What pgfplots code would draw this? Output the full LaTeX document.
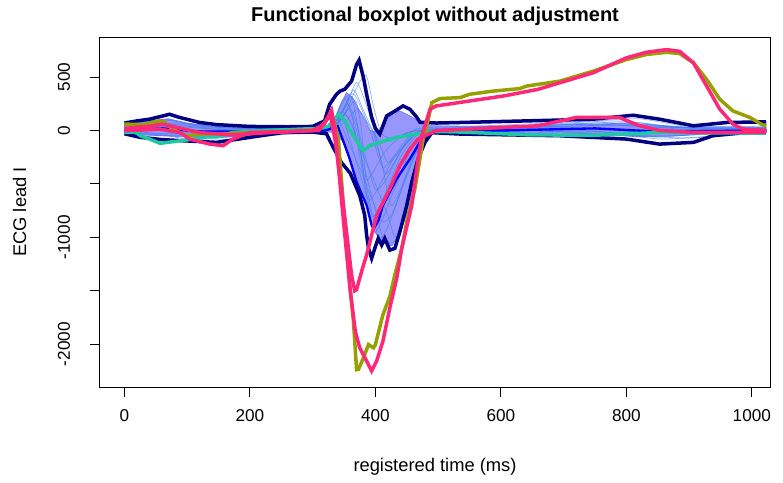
\documentclass[border=0pt]{standalone}
\usepackage{pgfplots}
\pgfplotsset{compat=1.18}
\usepackage{fontspec}
\setmainfont{Liberation Sans}
\definecolor{navyc}{RGB}{0,0,128}
\definecolor{fillc}{RGB}{150,150,252}
\definecolor{thinc}{RGB}{60,125,235}
\definecolor{bluec}{RGB}{0,0,255}
\definecolor{olivec}{RGB}{150,160,0}
\definecolor{pinkc}{RGB}{255,40,120}
\definecolor{tealc}{RGB}{30,200,160}
\begin{document}
\begin{tikzpicture}
\begin{axis}[
  scale only axis, width=402pt, height=210pt,
  xmin=-39, xmax=1029, ymin=-2400, ymax=875,
  axis line style={line width=0.6pt},
  tick align=outside, major tick length=6pt,
  tick style={line width=0.6pt, black},
  xtick pos=bottom, ytick pos=left,
  xtick={0,200,400,600,800,1000},
  ytick={-2000,-1500,-1000,-500,0,500},
  yticklabels={-2000,,-1000,,0,500},
  scaled ticks=false,
  /pgf/number format/assume math mode=true,
  /pgf/number format/set thousands separator={},
  ticklabel style={font=\fontsize{10.3}{12}\selectfont},
  xticklabel style={yshift=-4pt},
  yticklabel style={rotate=90, anchor=south, inner ysep=11.8pt},
  xlabel={registered time (ms)}, ylabel={ECG lead I},
  xlabel style={font=\fontsize{11}{13}\selectfont, at={(axis description cs:0.5,-0.2286)}, anchor=center},
  ylabel style={font=\fontsize{11}{13}\selectfont, at={(axis description cs:-0.12,0.5)}, anchor=center},
  title={Functional boxplot without adjustment},
  title style={font=\fontsize{12}{14}\selectfont\bfseries, at={(axis description cs:0.5,1.031)}, anchor=center},
  clip=true,
  thinl/.style={thinc, line width=0.45pt, opacity=0.55, smooth, tension=0.4},
]
\coordinate (bl) at (rel axis cs:0,0);
\coordinate (tr) at (rel axis cs:1,1);
% central region
\addplot[fill=fillc, draw=fillc!80!blue, line width=0.4pt] coordinates {
(0,60) (40,90) (70,110) (100,70) (140,40) (200,20) (260,15) (320,15) (335,100) (345,250) (354,354) (365,300) (375,183) (385,80) (391,0) (402,-10) (412,13) (418,106) (428,160) (439,183) (455,137) (471,78) (490,45) (550,40) (650,45) (750,60) (800,70) (850,50) (900,30) (1023,30)
(1023,-10) (950,-20) (880,-50) (820,-60) (750,-30) (650,-20) (550,-15) (490,-10) (475,-100) (466,-400) (455,-700) (440,-950) (426,-1080) (415,-1060) (405,-1000) (397,-930) (394,-886) (386,-700) (370,-480) (359,-266) (348,-100) (335,-20) (320,-10) (260,-30) (200,-50) (140,-70) (100,-60) (60,-50) (30,-40) (0,-20)
} -- cycle;
% thin curves
\addplot[thinl] coordinates {(0,20) (40,50) (80,60) (130,20) (200,0) (280,-10) (320,0) (335,120) (350,300) (362,150) (375,-250) (395,-800) (415,-600) (440,-250) (470,-20) (500,20) (600,30) (700,40) (800,50) (900,10) (1023,20)};
\addplot[thinl] coordinates {(0,-20) (50,-40) (90,-50) (150,-40) (220,-10) (300,0) (325,10) (342,80) (358,200) (370,0) (385,-500) (405,-1000) (420,-900) (445,-500) (470,-150) (490,0) (550,10) (700,20) (820,-10) (900,-30) (1023,0)};
\addplot[thinl] coordinates {(0,40) (30,80) (70,100) (110,50) (180,20) (260,10) (320,10) (340,100) (355,250) (370,450) (385,250) (398,0) (415,-400) (430,-300) (450,-100) (475,0) (600,40) (760,70) (850,40) (950,20) (1023,30)};
\addplot[thinl] coordinates {(0,0) (40,10) (80,-20) (140,-60) (210,-40) (290,-10) (320,0) (333,60) (345,150) (360,-100) (375,-400) (390,-650) (408,-500) (430,-250) (460,-60) (485,0) (600,10) (750,-30) (850,-60) (950,-20) (1023,-10)};
\addplot[thinl] coordinates {(0,10) (50,60) (90,70) (150,30) (230,10) (300,5) (325,20) (345,150) (365,380) (380,200) (395,0) (410,-300) (425,-700) (440,-550) (460,-250) (480,-50) (500,10) (650,40) (800,80) (900,20) (1023,10)};
\addplot[thinl] coordinates {(0,30) (60,70) (100,40) (180,10) (300,0) (330,20) (350,150) (370,400) (385,520) (398,200) (410,-30) (430,-80) (450,-20) (480,10) (600,40) (750,60) (850,30) (1023,20)};
\addplot[thinl] coordinates {(0,-10) (40,-30) (100,-20) (150,0) (230,-20) (300,-10) (322,0) (340,80) (355,250) (368,100) (382,-200) (400,-550) (418,-450) (440,-200) (465,-30) (490,0) (600,-10) (750,20) (850,0) (1023,-20)};
\addplot[thinl] coordinates {(0,0) (50,30) (100,10) (170,-20) (250,-10) (310,0) (330,30) (348,200) (362,320) (374,-50) (385,-600) (397,-950) (410,-850) (430,-550) (455,-200) (478,-20) (520,10) (700,30) (850,-20) (950,0) (1023,0)};
\addplot[thinl] coordinates {(0,-30) (40,-50) (80,-40) (130,-60) (200,-30) (280,-10) (320,-5) (335,60) (348,180) (362,50) (378,-200) (400,-500) (420,-800) (432,-1000) (445,-800) (460,-400) (475,-100) (495,0) (650,0) (800,-40) (900,-70) (1023,-20)};
\addplot[thinl] coordinates {(0,20) (60,40) (120,0) (200,-30) (290,0) (325,10) (345,100) (368,280) (378,0) (385,-450) (395,-400) (415,-200) (440,-60) (470,0) (600,20) (780,50) (870,10) (1023,10)};
\addplot[thinl] coordinates {(0,-10) (50,20) (100,-10) (160,-50) (240,-30) (300,-10) (320,-5) (330,50) (340,120) (355,-80) (375,-350) (395,-650) (410,-850) (425,-800) (445,-500) (465,-200) (485,-20) (520,0) (700,10) (850,-50) (1023,-10)};
\addplot[thinl] coordinates {(0,5) (50,40) (100,30) (180,0) (280,5) (330,15) (352,80) (372,200) (390,50) (405,-100) (420,-300) (438,-200) (460,-50) (485,0) (600,30) (780,90) (880,30) (1023,20)};
\addplot[thinl] coordinates {(0,50) (40,70) (75,95) (120,40) (200,20) (300,15) (330,60) (352,300) (366,340) (378,200) (390,30) (400,-150) (412,-350) (428,-250) (450,-80) (470,20) (600,50) (750,90) (820,110) (900,40) (1023,40)};
\addplot[thinl] coordinates {(0,-15) (40,-20) (90,-70) (140,-90) (210,-60) (290,-20) (320,-10) (338,40) (350,150) (363,60) (380,-300) (398,-700) (412,-1000) (428,-1050) (442,-900) (458,-500) (475,-150) (492,-10) (600,0) (760,-10) (860,-80) (1023,-5)};
% median-like blue line
\addplot[bluec, line width=1.4pt] coordinates {(0,0) (60,20) (120,-10) (200,-10) (320,0) (340,40) (352,-150) (359,-266) (370,-480) (386,-700) (394,-886) (397,-920) (405,-840) (412,-700) (434,-452) (455,-266) (471,-108) (490,-10) (600,0) (750,20) (850,-10) (1023,0)};
% envelopes
\addplot[navyc, line width=2.1pt] coordinates {(0,70) (20,90) (40,106) (72,152) (88,122) (120,75) (147,55) (200,38) (260,35) (300,38) (319,90) (327,245) (338,339) (344,370) (351,385) (362,462) (370,618) (374,658) (381,494) (386,339) (394,125) (400,20) (407,-33) (418,137) (428,171) (444,230) (455,199) (466,124) (471,78) (497,70) (535,75) (641,90) (747,106) (811,143) (853,106) (907,44) (960,75) (1023,81)};
\addplot[navyc, line width=2.1pt] coordinates {(0,-30) (25,-64) (60,-85) (94,-96) (147,-111) (200,-64) (253,-18) (300,-15) (322,-30) (332,-150) (346,-300) (360,-400) (375,-607) (383,-793) (386,-979) (389,-1103) (394,-1196) (399,-1103) (404.5,-1010) (410,-1072) (415,-1010) (423,-1119) (431,-1103) (439,-948) (450,-700) (458,-483) (468,-266) (479,-111) (490,-20) (535,-33) (694,-49) (800,-80) (853,-127) (907,-111) (938,-49) (990,-18) (1023,-5)};
% outliers
\addplot[tealc, line width=2.1pt] coordinates {(0,-18) (19,-18) (25,-49) (40,-80) (57,-120) (83,-100) (110,-80) (131,-60) (147,-60) (173,-18) (227,0) (280,13) (311,20) (325,40) (342,153) (351,90) (365,-49) (380,-189) (391,-142) (407,-111) (434,-64) (466,-33) (492,-10) (524,-12) (577,-24) (641,-40) (747,-45) (853,-18) (1023,-25)};
\addplot[olivec, line width=2.1pt] coordinates {(0,60) (30,55) (56,90) (64,75) (77,13) (99,-49) (120,-33) (160,-30) (200,-20) (260,-10) (310,10) (322,100) (330,168) (335,60) (341,-80) (349,-700) (354,-1103) (360,-1500) (365,-1785) (370,-2238) (373,-2235) (381,-2126) (389,-2003) (397,-2033) (400,-2003) (412,-1724) (423,-1553) (431,-1350) (442,-1103) (450,-855) (463,-545) (471,-266) (476,-80) (482,44) (490,261) (503,299) (535,308) (550,339) (588,369) (630,392) (641,416) (694,462) (747,555) (800,664) (832,711) (864,732) (885,720) (907,633) (928,478) (949,292) (970,183) (997,122) (1015,60) (1023,40)};
\addplot[pinkc, line width=2.1pt] coordinates {(0,0) (30,5) (56,13) (88,-18) (104,-80) (136,-127) (157,-142) (173,-80) (200,-18) (260,-10) (310,0) (322,100) (330,190) (336,0) (342,-400) (350,-900) (360,-1500) (368,-1880) (375,-2033) (386,-2157) (394,-2250) (402,-2157) (412,-1971) (423,-1661) (434,-1382) (442,-1103) (458,-700) (468,-266) (474,-50) (479,44) (487,199) (497,230) (550,276) (604,323) (659,385) (694,447) (747,540) (800,680) (832,732) (864,757) (885,741) (907,633) (928,416) (949,199) (970,60) (986,13) (1023,0)};
\addplot[pinkc, line width=2.1pt] coordinates {(0,20) (40,40) (60,60) (90,20) (120,-20) (170,-40) (230,-20) (300,0) (318,60) (328,150) (336,-100) (345,-500) (355,-1000) (362,-1350) (367,-1500) (370,-1490) (375,-1382) (381,-1258) (386,-1165) (402,-793) (423,-545) (439,-328) (455,-173) (468,-80) (497,0) (550,13) (604,29) (659,44) (720,122) (789,122) (821,44) (853,0) (907,-18) (1023,-18)};
\end{axis}
\pgfresetboundingbox
\path ([xshift=-60pt,yshift=-57.6pt]bl) rectangle ([xshift=7.8pt,yshift=22.2pt]tr);
\end{tikzpicture}
\end{document}
